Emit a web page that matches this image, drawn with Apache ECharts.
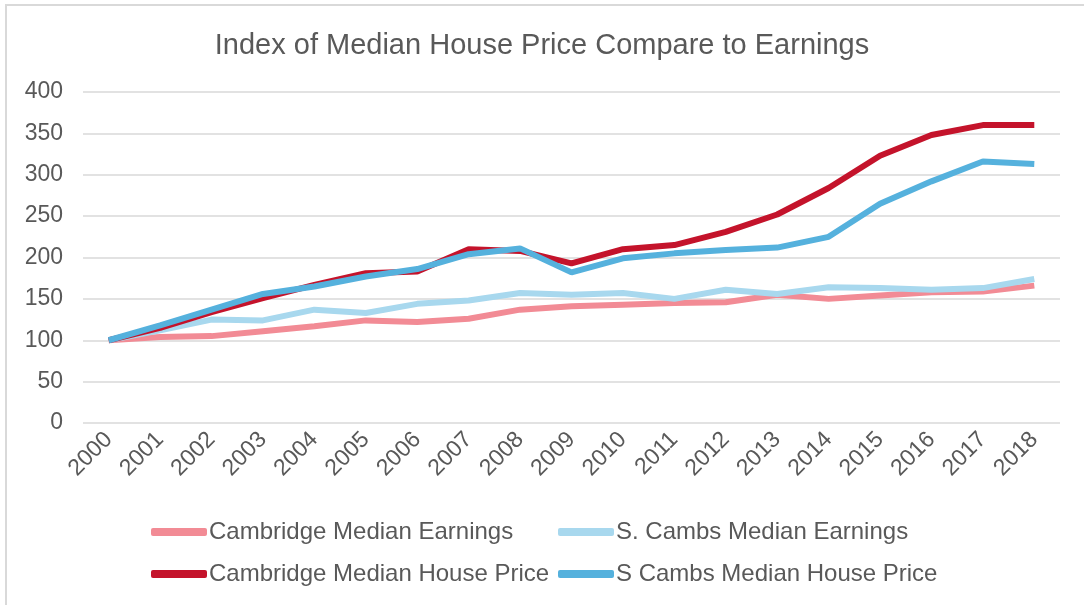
<!DOCTYPE html>
<html>
<head>
<meta charset="utf-8">
<script src="https://cdn.jsdelivr.net/npm/echarts@6/dist/echarts.min.js"></script>
<style>
  html, body { margin: 0; padding: 0; background: #fff; }
  #chart { width: 1084px; height: 605px; }
</style>
</head>
<body>
<div id="chart"></div>
<script>
// years on the x axis
const years = ['2000', '2001', '2002', '2003', '2004', '2005', '2006', '2007', '2008', '2009',
  '2010', '2011', '2012', '2013', '2014', '2015', '2016', '2017', '2018']

// index values, 2000 = 100
const camEarnings = [100, 104, 105, 111, 117, 124, 122, 126, 137, 141, 143, 145, 146, 155, 150, 154, 158, 159, 166]
const scambsEarnings = [100, 112, 125, 124, 137, 133, 144, 148, 157, 155, 157, 150, 161, 156, 164, 163, 161, 163, 174]
const camHouse = [100, 115, 134, 151, 167, 181, 183, 210, 208, 193, 210, 215, 231, 252, 284, 323, 348, 360, 360]
const scambsHouse = [100, 118, 137, 156, 165, 177, 186, 204, 211, 182, 199, 205, 209, 212, 225, 265, 292, 316, 313]

const seriesNames = ['Cambridge Median Earnings', 'S. Cambs Median Earnings',
  'Cambridge Median House Price', 'S Cambs Median House Price']
const colorSets = ['#f28b95', '#a8d8ee', '#c4132b', '#55b1dd']

const font = '"Liberation Sans", Arial, sans-serif'
const textColor = '#595959'

function legendAt(name, left, top) {
  return {
    data: [name],
    left: left,
    top: top,
    padding: 0,
    itemWidth: 56,
    itemHeight: 8,
    itemGap: 0,
    icon: 'roundRect',
    selectedMode: false,
    textStyle: { fontFamily: font, fontSize: 24, color: textColor, padding: [0, 0, 0, -3] }
  }
}

const chart = echarts.init(document.getElementById('chart'))
chart.setOption({
  animation: false,
  color: colorSets,
  title: {
    text: 'Index of Median House Price Compare to Earnings',
    left: 'center',
    top: 26,
    textStyle: { fontFamily: font, fontSize: 29, fontWeight: 'normal', color: textColor }
  },
  graphic: [{
    type: 'rect',
    shape: { x: 6, y: 5, width: 1200, height: 800 },
    style: { fill: 'none', stroke: '#d9d9d9', lineWidth: 2 },
    silent: true
  }],
  legend: [
    legendAt(seriesNames[0], 151, 520),
    legendAt(seriesNames[1], 558, 520),
    legendAt(seriesNames[2], 151, 562),
    legendAt(seriesNames[3], 558, 562)
  ],
  grid: {
    left: 83,
    right: 24,
    top: 92,
    bottom: 182,
    outerBoundsMode: 'none'
  },
  xAxis: {
    type: 'category',
    data: years,
    boundaryGap: true,
    axisLine: { show: false },
    axisTick: { show: false },
    axisLabel: { rotate: 45, margin: 13, fontFamily: font, fontSize: 23, color: textColor }
  },
  yAxis: {
    type: 'value',
    min: 0,
    max: 400,
    interval: 50,
    axisLine: { show: false },
    axisTick: { show: false },
    axisLabel: { margin: 20, fontFamily: font, fontSize: 23, color: textColor },
    splitLine: { lineStyle: { color: '#d9d9d9', width: 1.6 } }
  },
  series: [
    { name: seriesNames[0], type: 'line', showSymbol: false, data: camEarnings, lineStyle: { width: 6 } },
    { name: seriesNames[1], type: 'line', showSymbol: false, data: scambsEarnings, lineStyle: { width: 6 } },
    { name: seriesNames[2], type: 'line', showSymbol: false, data: camHouse, lineStyle: { width: 6 } },
    { name: seriesNames[3], type: 'line', showSymbol: false, data: scambsHouse, lineStyle: { width: 6 } }
  ]
})
</script>
</body>
</html>
